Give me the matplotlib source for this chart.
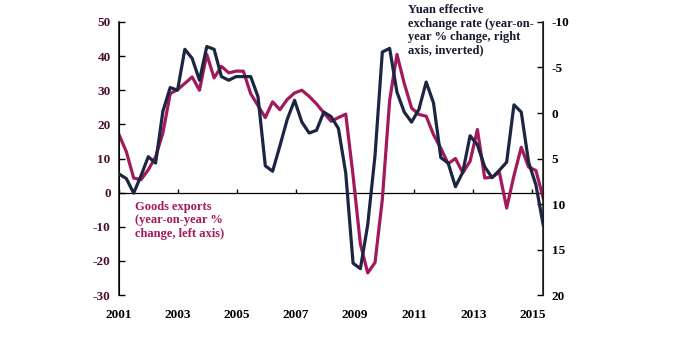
import numpy as np
import matplotlib.pyplot as plt

# quarterly series, 2001Q1 onwards
exports_yoy = [17, 12, 4.3, 3.8, 6.7, 10.5, 17.5, 29, 30.2, 32, 33.9, 30,
               40.5, 33.6, 37, 35.1, 35.6, 35.6, 29, 25.5, 22, 26.6, 24.3, 27.3,
               29.2, 30, 28.2, 26, 23.4, 20.9, 22, 23, 5, -15, -23.5, -20.5,
               -2, 27, 40.5, 32, 24.8, 22.9, 22.4, 17, 13, 8.5, 10, 5.8,
               9.2, 18.5, 4.3, 4.5, 6, -4.5, 5, 13.3, 7.5, 6.5, -1.6]
yuan_reer_yoy = [6.7, 7.2, 8.8, 6.9, 4.8, 5.5, -0.2, -2.8, -2.5, -7.0, -6.0, -3.6,
                 -7.3, -7.0, -4.0, -3.6, -4.0, -4.0, -4.0, -1.8, 5.8, 6.4, 3.6, 0.7,
                 -1.4, 1.0, 2.2, 1.9, -0.1, 0.4, 1.7, 6.6, 16.5, 17.1, 12.3, 4.7,
                 -6.7, -7.1, -2.3, -0.1, 1.0, -0.4, -3.4, -1.1, 4.9, 5.5, 8.1, 6.5,
                 2.5, 3.5, 5.9, 7.1, 6.3, 5.4, -0.9, -0.1, 5.4, 7.9, 12.3]
year_ticks = [2001, 2003, 2005, 2007, 2009, 2011, 2013, 2015]

x_end = 2015.37
t = np.linspace(2001, x_end, len(exports_yoy))

maroon = '#a3195b'
navy = '#1c2541'
plt.rcParams['font.family'] = ['Liberation Serif', 'DejaVu Serif']
plt.rcParams['font.weight'] = 'bold'
plt.rcParams['axes.unicode_minus'] = False

fig = plt.figure(figsize=(6.92, 3.38), dpi=100)
ax = fig.add_axes([0.172, 0.127, 0.613, 0.808])
ax2 = ax.twinx()

ax.plot(t, exports_yoy, color=maroon, lw=2.3, zorder=3)
ax2.plot(t, yuan_reer_yoy, color=navy, lw=2.3, zorder=3)

ax.set_xlim(2001, x_end)
ax.set_ylim(-30, 50)
ax.set_yticks(range(-30, 51, 10))
ax2.set_ylim(20, -10)
ax2.set_yticks(range(-10, 21, 5))

for a in (ax, ax2):
    a.spines['top'].set_visible(False)
    a.spines['bottom'].set_visible(False)
ax.spines['left'].set_linewidth(1.2)
ax2.spines['right'].set_linewidth(1.2)
ax.spines['left'].set_color('#222222')
ax2.spines['right'].set_color('#222222')

ax.tick_params(axis='y', direction='in', length=4, width=1, labelsize=9.5,
               labelcolor='#4a1030', pad=6)
ax2.tick_params(axis='y', direction='in', length=4, width=1, labelsize=9.5,
                labelcolor='black', pad=6)

# year labels along the bottom, tick marks on the zero line
ax.set_xticks(year_ticks)
ax.set_xticklabels([str(y) for y in year_ticks])
ax.tick_params(axis='x', length=0, pad=10, labelsize=9.5)
zero_axis = ax.secondary_xaxis(30 / 80)
zero_axis.set_xticks(year_ticks)
zero_axis.tick_params(direction='in', length=3, width=1, labelbottom=False,
                      labeltop=False)
zero_axis.spines['bottom'].set_linewidth(0.9)

ax.text(0.038, 0.345, 'Goods exports\n(year-on-year %\nchange, left axis)',
        transform=ax.transAxes, color=maroon, fontsize=9, va='top', ha='left',
        linespacing=1.15)
ax.text(0.682, 1.065,
        'Yuan effective\nexchange rate (year-on-\nyear % change, right\naxis, inverted)',
        transform=ax.transAxes, color='#151a2e', fontsize=9, va='top', ha='left',
        linespacing=1.15)

fig.savefig('out.png', dpi=100)
